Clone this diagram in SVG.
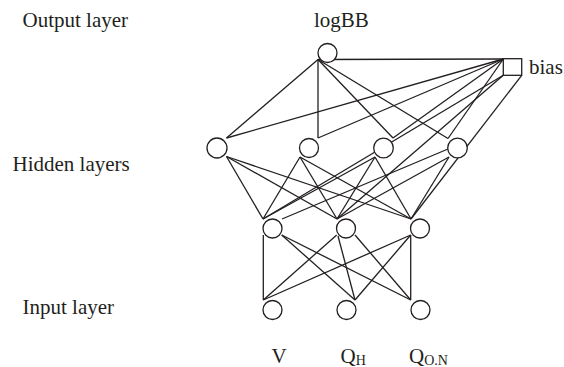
<svg xmlns="http://www.w3.org/2000/svg" width="564" height="367" viewBox="0 0 564 367">
<style>
.n{fill:#fff;stroke:#231f20;stroke-width:1.3}
.c line{stroke:#231f20;stroke-width:1.3}
text{font-family:"Liberation Serif","Times New Roman",serif;font-size:21px;fill:#231f20}
.sub{font-size:14px}
</style>
<rect width="564" height="367" fill="#fff"/>
<g class="c" id="connectors">
<line x1="318" y1="59.5" x2="503.3" y2="59"/>
<line x1="318" y1="59.5" x2="226.5" y2="138"/>
<line x1="318" y1="59.5" x2="318" y2="138"/>
<line x1="318" y1="138" x2="503.3" y2="59"/>
<line x1="318" y1="59.5" x2="393" y2="138"/>
<line x1="393" y1="138" x2="503.3" y2="59"/>
<line x1="318" y1="59.5" x2="448" y2="138.5"/>
<line x1="448" y1="138.5" x2="503.3" y2="59"/>
<line x1="226.5" y1="138" x2="503.3" y2="59"/>
<line x1="226.5" y1="156.5" x2="263" y2="219"/>
<line x1="226.5" y1="156.5" x2="337" y2="219"/>
<line x1="226.5" y1="156.5" x2="411" y2="219"/>
<line x1="300" y1="157" x2="263" y2="219"/>
<line x1="300" y1="157" x2="337" y2="219"/>
<line x1="300" y1="157" x2="411" y2="219"/>
<line x1="375" y1="157" x2="263" y2="219"/>
<line x1="375" y1="157" x2="337" y2="219"/>
<line x1="375" y1="157" x2="411" y2="219"/>
<line x1="448" y1="149" x2="282" y2="219"/>
<line x1="449" y1="157" x2="337" y2="219"/>
<line x1="449" y1="157" x2="411" y2="219"/>
<line x1="503.3" y1="75.3" x2="263" y2="219"/>
<line x1="503.3" y1="75.3" x2="337" y2="219"/>
<line x1="521.7" y1="75.3" x2="411" y2="219"/>
<line x1="263.3" y1="235" x2="263.3" y2="300"/>
<line x1="281.7" y1="235" x2="355" y2="300"/>
<line x1="281.7" y1="235" x2="410.7" y2="300"/>
<line x1="336.7" y1="235" x2="263.3" y2="300"/>
<line x1="338" y1="236" x2="355" y2="300"/>
<line x1="355" y1="235" x2="410.7" y2="300"/>
<line x1="410.7" y1="235" x2="263.3" y2="300"/>
<line x1="410.7" y1="235" x2="355" y2="300"/>
<line x1="410.7" y1="235" x2="410.7" y2="300"/>
</g>
<g id="out"><circle class="n" cx="327.5" cy="53" r="9.5"/></g>
<g id="bias"><rect class="n" x="503.3" y="58.7" width="18.4" height="16.6"/></g>
<g id="h1"><circle class="n" cx="217" cy="148" r="10"/></g>
<g id="h2"><circle class="n" cx="309" cy="148" r="9.5"/></g>
<g id="h3"><circle class="n" cx="383.5" cy="148" r="9.8"/></g>
<g id="h4"><circle class="n" cx="457.5" cy="148" r="9.8"/></g>
<g id="g1"><circle class="n" cx="272.5" cy="228.5" r="9.5"/></g>
<g id="g2"><circle class="n" cx="346" cy="228.5" r="9.5"/></g>
<g id="g3"><circle class="n" cx="420" cy="228.5" r="9.5"/></g>
<g id="i1"><circle class="n" cx="272.5" cy="310" r="9.5"/></g>
<g id="i2"><circle class="n" cx="346.5" cy="310" r="9.5"/></g>
<g id="i3"><circle class="n" cx="420.5" cy="310" r="9.5"/></g>
<g id="labels">
<text x="22.5" y="27">Output layer</text>
<text x="12.5" y="171">Hidden layers</text>
<text x="22.5" y="314">Input layer</text>
<text x="314" y="27">logBB</text>
<text x="529" y="74">bias</text>
<text x="271.5" y="363">V</text>
<text x="340.5" y="363">Q<tspan class="sub" dy="1.5">H</tspan></text>
<text x="409" y="363">Q<tspan class="sub" dy="1.5">O.N</tspan></text>
</g>
</svg>
